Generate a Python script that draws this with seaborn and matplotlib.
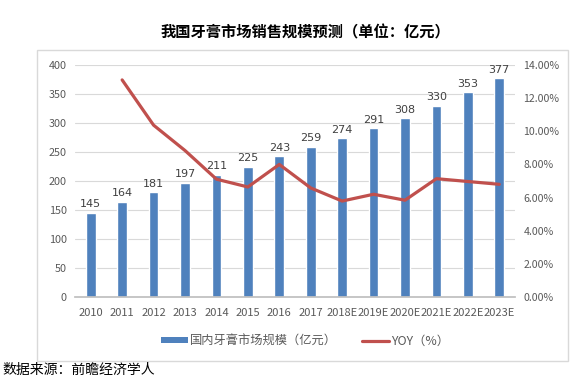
import matplotlib
matplotlib.use("Agg")
import matplotlib.pyplot as plt
import seaborn as sns
import numpy as np
import pandas as pd
from matplotlib.patches import Rectangle, Patch
from matplotlib.lines import Line2D
from matplotlib.ticker import FuncFormatter, MultipleLocator

years = ["2010", "2011", "2012", "2013", "2014", "2015", "2016", "2017",
         "2018E", "2019E", "2020E", "2021E", "2022E", "2023E"]
market = [145, 164, 181, 197, 211, 225, 243, 259, 274, 291, 308, 330, 353, 377]
yoy = [np.nan, 13.10, 10.37, 8.84, 7.11, 6.64, 8.00, 6.58, 5.79, 6.20, 5.84, 7.14, 6.97, 6.80]

title = "我国牙膏市场销售规模预测（单位：亿元）"
bar_label = "国内牙膏市场规模（亿元）"
line_label = "YOY（%）"
source = "数据来源：前瞻经济学人"

sns.set_theme(style="white")
plt.rcParams['font.family'] = ['Noto Sans CJK SC', 'DejaVu Sans']

BLUE = "#4F81BD"
RED = "#C0504D"
GREY = "#595959"

df = pd.DataFrame({"year": years, "market": market, "yoy": yoy})

fig = plt.figure(figsize=(5.75, 3.82), dpi=100)
W, H = 575, 382
ax = fig.add_axes([75 / W, 1 - 297 / H, 440 / W, 232 / H])

sns.barplot(data=df, x="year", y="market", color=BLUE, width=0.31,
            saturation=1, ax=ax)
ax.set_ylim(0, 400)
ax.yaxis.set_major_locator(MultipleLocator(50))
ax.set_xlim(-0.5, len(years) - 0.5)
ax.grid(axis="y", color="#D9D9D9", linewidth=0.8)
ax.set_axisbelow(True)
for s in ["left", "right", "top"]:
    ax.spines[s].set_visible(False)
ax.spines["bottom"].set_color("#BFBFBF")
ax.set_xlabel("")
ax.set_ylabel("")
ax.tick_params(axis="y", length=0, labelsize=7.8, colors=GREY, pad=6)
ax.tick_params(axis="x", length=0, labelsize=8, colors=GREY, pad=8)

for i, v in enumerate(market):
    ax.text(i, v + 6, str(v), ha="center", va="bottom", fontsize=8,
            color="#404040", family=['DejaVu Sans'])

ax2 = ax.twinx()
xpos = np.arange(len(years))
sns.lineplot(x=xpos, y=df["yoy"], color=RED, linewidth=2.3, ax=ax2)
ax2.set_ylim(0, 14)
ax2.yaxis.set_major_locator(MultipleLocator(2))
ax2.yaxis.set_major_formatter(FuncFormatter(lambda v, p: f"{v:.2f}%"))
ax2.set_ylabel("")
for s in ["left", "right", "top", "bottom"]:
    ax2.spines[s].set_visible(False)
ax2.tick_params(axis="y", length=0, labelsize=7.6, colors=GREY, pad=6)
ax2.grid(False)
ax2.set_xlim(-0.5, len(years) - 0.5)

# frame
fig.patches.append(Rectangle((37 / W, 1 - 361 / H), 531 / W, 311 / H,
                             transform=fig.transFigure, fill=False,
                             edgecolor="#D9D9D9", linewidth=1))

fig.text(305 / W, 1 - 32 / H, title, ha="center", va="center",
         fontsize=11, fontweight="bold", color="black")

handles = [Patch(facecolor=BLUE, edgecolor="none"),
           Line2D([0], [0], color=RED, linewidth=2.3)]
fig.legend(handles, [bar_label, line_label], loc="center",
           bbox_to_anchor=(305 / W, 1 - 341 / H), ncol=2, frameon=False,
           fontsize=8.8, labelcolor=GREY, handlelength=2.2, handleheight=0.45,
           handletextpad=0.2, columnspacing=2.0)

fig.text(2 / W, 1 - 370 / H, source, ha="left", va="center",
         fontsize=10, color="black")

fig.savefig("out.png", dpi=100)
